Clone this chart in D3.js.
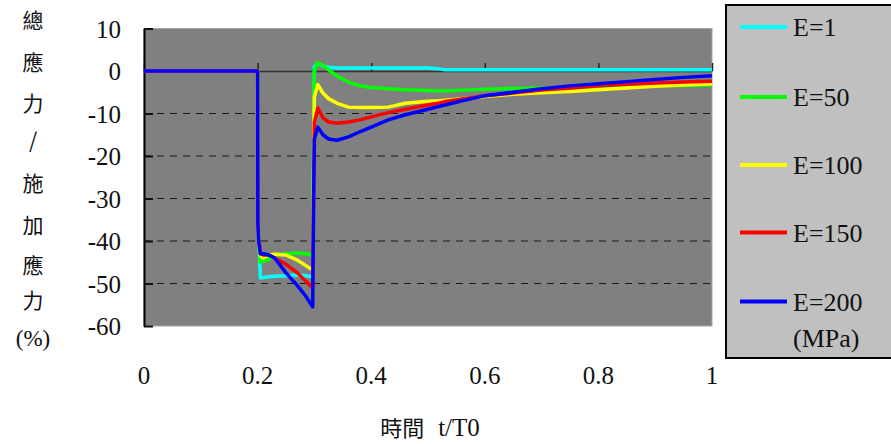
<!DOCTYPE html>
<html>
<head>
<meta charset="utf-8">
<script src="https://cdn.jsdelivr.net/npm/d3@7"></script>
<style>
  body { margin: 0; background: #fff; }
  svg text { font-family: "Liberation Serif", "Times New Roman", Tinos, serif; }
  svg text.cjk, svg tspan.cjk { font-family: "Noto Sans CJK TC", sans-serif; }
</style>
</head>
<body>
<script>
// time grid, t/T0
let tValues = [0, 0.2, 0.2005, 0.202, 0.205, 0.21, 0.22, 0.23, 0.25, 0.27, 0.285, 0.297,
  0.2985, 0.3, 0.306, 0.315, 0.325, 0.34, 0.36, 0.38, 0.40, 0.43, 0.46, 0.50, 0.52, 0.53,
  0.56, 0.60, 0.65, 0.70, 0.75, 0.80, 0.85, 0.90, 0.95, 1.0];

// total stress / applied stress (%) per modulus
let e1 = [0, 0, -36, -39, -48.7, -48.6, -48.4, -48.3, -48.2, -48, -48.2, -48.4,
  -20, 1.0, 1.8, 1.2, 0.9, 0.7, 0.7, 0.7, 0.7, 0.7, 0.7, 0.7, 0.5, 0.3,
  0.3, 0.3, 0.3, 0.3, 0.3, 0.3, 0.3, 0.3, 0.3, 0.3];
let e50 = [0, 0, -36, -40, -45, -44.8, -44.3, -43.3, -43, -42.8, -43, -43.3,
  -20, 0, 2.0, 1.3, 0.3, -1.2, -2.6, -3.5, -3.9, -4.2, -4.4, -4.6, -4.7, -4.7,
  -4.5, -4.3, -4.1, -4.0, -3.9, -3.8, -3.6, -3.5, -3.4, -3.3];
let e100 = [0, 0, -36, -40, -43.5, -44, -43.3, -43.1, -43.3, -44.5, -45.8, -46.8,
  -25, -6, -3.2, -5.2, -6.5, -7.6, -8.5, -8.6, -8.6, -8.5, -7.6, -7.1, -7.0, -6.9,
  -6.5, -6.0, -5.5, -5.1, -4.8, -4.4, -4.0, -3.6, -3.3, -3.0];
let e150 = [0, 0, -36, -40, -43, -43.3, -43.3, -44, -45.5, -47.5, -49.5, -51,
  -30, -12, -8.7, -11, -12, -12.3, -12, -11.5, -10.8, -9.8, -9, -8, -7.5, -7.2,
  -6.6, -5.8, -5.2, -4.5, -4, -3.5, -3.1, -2.8, -2.6, -2.4];
let e200 = [0, 0, -36, -40, -43, -43, -43.3, -44, -47.5, -50.5, -53, -55.5,
  -32, -16, -13.2, -15, -16, -16.3, -15.5, -14.3, -13.2, -11.5, -10.3, -9, -8.3, -8,
  -7, -5.8, -5, -4.2, -3.5, -3, -2.5, -2, -1.5, -1.1];

let seriesNames = ["E=1", "E=50", "E=100", "E=150", "E=200"];
let seriesValues = [e1, e50, e100, e150, e200];
let seriesColors = ["#00ffff", "#00ff00", "#ffff00", "#ff0000", "#0000ff"];

let xTicks = [0, 0.2, 0.4, 0.6, 0.8, 1];
let yTicks = [10, 0, -10, -20, -30, -40, -50, -60];
let gridLines = [-10, -20, -30, -40, -50];
let yTitle = ["總", "應", "力", "/", "施", "加", "應", "力", "(%)"];

let width = 891;
let height = 444;
let plotLeft = 144, plotRight = 712, plotTop = 28.5, plotBottom = 326;

let svg = d3.select("body")
  .append("svg")
  .attr("width", width)
  .attr("height", height);

let xScale = d3.scaleLinear().domain([0, 1]).range([plotLeft, plotRight]);
let yScale = d3.scaleLinear().domain([-60, 10]).range([plotBottom, plotTop]);

// plot area
svg.append("rect")
  .attr("x", plotLeft)
  .attr("y", plotTop)
  .attr("width", plotRight - plotLeft)
  .attr("height", plotBottom - plotTop)
  .attr("fill", "#808080")
  .attr("stroke", "#a6a6a6")
  .attr("stroke-width", 1);

svg.append("g")
  .selectAll("line")
  .data(gridLines)
  .join("line")
  .attr("x1", plotLeft)
  .attr("x2", plotRight)
  .attr("y1", d => yScale(d))
  .attr("y2", d => yScale(d))
  .attr("stroke", "#1a1a1a")
  .attr("stroke-width", 1)
  .attr("stroke-dasharray", "7,6");

// x axis sits on the zero line, ticks pointing up
let xAxis = d3.axisTop(xScale)
  .tickValues(xTicks)
  .tickSize(8)
  .tickSizeOuter(0)
  .tickFormat("");
let gxAxis = svg.append("g")
  .attr("transform", "translate(0," + yScale(0) + ")")
  .call(xAxis);
gxAxis.select(".domain").attr("stroke", "#333").attr("stroke-width", 1.5);
gxAxis.selectAll(".tick line").attr("stroke", "#222").attr("stroke-width", 1.5);

// x tick labels below the plot
svg.append("g")
  .selectAll("text")
  .data(xTicks)
  .join("text")
  .attr("x", d => xScale(d))
  .attr("y", 384)
  .attr("text-anchor", "middle")
  .attr("font-size", 25)
  .attr("fill", "#111")
  .text(d => d);

// y axis, ticks pointing inward
let yAxis = d3.axisRight(yScale)
  .tickValues(yTicks)
  .tickSize(9)
  .tickSizeOuter(0)
  .tickFormat("");
let gyAxis = svg.append("g")
  .attr("transform", "translate(" + plotLeft + ",0)")
  .call(yAxis);
gyAxis.select(".domain").attr("stroke", "#000").attr("stroke-width", 2);
gyAxis.selectAll(".tick line").attr("stroke", "#111").attr("stroke-width", 2);

svg.append("g")
  .selectAll("text")
  .data(yTicks)
  .join("text")
  .attr("x", 121)
  .attr("y", d => yScale(d) + 9)
  .attr("text-anchor", "end")
  .attr("font-size", 25)
  .attr("fill", "#111")
  .text(d => d);

// curves
let line = d3.line()
  .x((d, i) => xScale(tValues[i]))
  .y(d => yScale(d));

svg.append("g")
  .selectAll("path")
  .data(seriesValues)
  .join("path")
  .attr("d", d => line(d))
  .attr("fill", "none")
  .attr("stroke", (d, i) => seriesColors[i])
  .attr("stroke-width", 3.5)
  .attr("stroke-linejoin", "round");

// axis titles
svg.append("g")
  .selectAll("text")
  .data(yTitle)
  .join("text")
  .attr("class", (d, i) => i === 8 ? null : "cjk")
  .attr("x", 33)
  .attr("y", (d, i) => [20, 62, 103, 140, 183, 225, 265, 300, 338][i] + 8)
  .attr("text-anchor", "middle")
  .attr("font-size", (d, i) => i === 8 ? 23 : 21)
  .attr("fill", "#111")
  .text(d => d);

let xTitle = svg.append("text")
  .attr("x", 430)
  .attr("y", 436)
  .attr("text-anchor", "middle")
  .attr("fill", "#111");
xTitle.append("tspan").attr("class", "cjk").attr("font-size", 22).text("時間");
xTitle.append("tspan").attr("dx", 14).attr("font-size", 25).text("t/T0");

// legend
let legend = svg.append("g");
legend.append("rect")
  .attr("x", 726)
  .attr("y", 5)
  .attr("width", 200)
  .attr("height", 353)
  .attr("fill", "#c0c0c0")
  .attr("stroke", "#000")
  .attr("stroke-width", 2);

let legendY = [27, 97, 165, 232.5, 301.5];
let items = legend.selectAll("g.item")
  .data(seriesNames)
  .join("g")
  .attr("class", "item")
  .attr("transform", (d, i) => "translate(0," + legendY[i] + ")");
items.append("line")
  .attr("x1", 740)
  .attr("x2", 787)
  .attr("stroke", (d, i) => seriesColors[i])
  .attr("stroke-width", 4);
items.append("text")
  .attr("x", 793)
  .attr("y", 9)
  .attr("font-size", 26)
  .attr("fill", "#111")
  .text(d => d);

legend.append("text")
  .attr("x", 793)
  .attr("y", 347)
  .attr("font-size", 26)
  .attr("fill", "#111")
  .text("(MPa)");
</script>
</body>
</html>
